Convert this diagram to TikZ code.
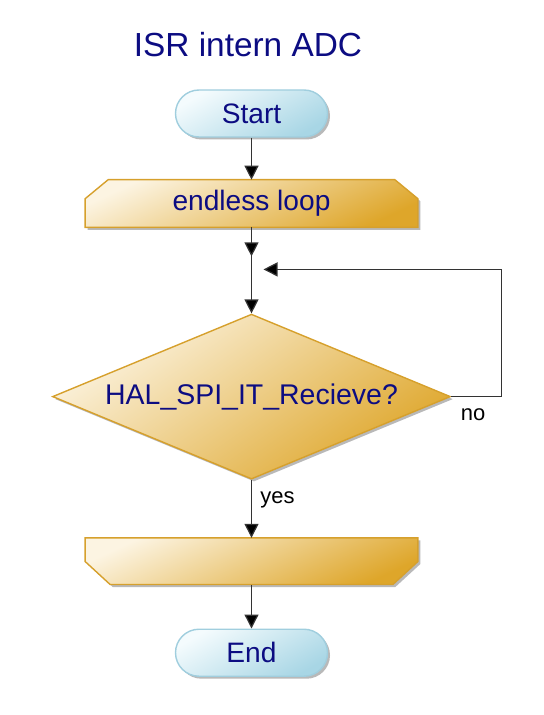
\documentclass[tikz,border=0pt]{standalone}
\usepackage{fontspec}
\setmainfont{Liberation Sans}
\usetikzlibrary{shapes.geometric,arrows.meta,positioning,calc,backgrounds,shadows}

\definecolor{inktext}{RGB}{12,12,130}
\definecolor{pillA}{RGB}{244,251,253}
\definecolor{pillB}{RGB}{168,214,229}
\definecolor{pillline}{RGB}{160,206,222}
\definecolor{goldA}{RGB}{252,244,226}
\definecolor{goldB}{RGB}{222,166,42}
\definecolor{goldline}{RGB}{214,160,44}

\begin{document}
\begin{tikzpicture}[
  font=\fontsize{16}{19}\selectfont,
  >={Triangle[length=0.28cm, width=0.28cm, fill=black]},
  heading/.style={font=\fontsize{19}{22}\selectfont, text=inktext},
  pill/.style={rectangle, rounded corners=0.47cm, draw=pillline, line width=0.8pt,
               top color=pillA, bottom color=pillB, shading angle=30,
               drop shadow={shadow xshift=0.05cm, shadow yshift=-0.05cm, fill=gray!55, opacity=1},
               minimum width=3.04cm, minimum height=0.94cm, text=inktext},
  bar/.style={rectangle, inner sep=0pt, minimum width=6.64cm, minimum height=0.94cm, text=inktext},
  barshape/.style={draw=goldline, line width=0.8pt, top color=goldA, bottom color=goldB, shading angle=25,
                   drop shadow={shadow xshift=0.05cm, shadow yshift=-0.05cm, fill=gray!55, opacity=1}},
  dec/.style={diamond, aspect=2.41, draw=goldline, line width=0.8pt, top color=goldA, bottom color=goldB, shading angle=35,
              drop shadow={shadow xshift=0.05cm, shadow yshift=-0.05cm, fill=gray!55, opacity=1},
              minimum width=7.96cm, minimum height=3.3cm, inner sep=0pt, text=inktext,
              font=\fontsize{16.2}{19}\selectfont},
  link/.style={->, line width=0.7pt, draw=black!80},
  lbl/.style={font=\fontsize{12.5}{15}\selectfont, text=black},
]
\useasboundingbox (0,0) rectangle (10.86,-14.3);

% title
\node[heading] (title) at (4.96,-0.9) {ISR intern ADC};

% main column
\node[pill] (start) at (5.03,-2.27) {Start};
\node[bar, below=0.84cm of start] (loop) {endless loop};
\coordinate[below=0.84cm of loop] (join);
\node[dec, below=0.88cm of join] (query) {HAL\_SPI\_IT\_Recieve?};
\node[bar, minimum height=0.92cm, below=1.16cm of query] (post) {};
\node[pill, below=0.88cm of post] (stop) {End};

% gold bars
\begin{scope}[on background layer]
  \path[barshape] (loop.south west) -- ([yshift=-0.38cm]loop.north west) -- ([xshift=0.46cm]loop.north west)
    -- ([xshift=-0.46cm]loop.north east) -- ([yshift=-0.38cm]loop.north east) -- (loop.south east) -- cycle;
  \path[barshape] (post.north west) -- ([yshift=0.46cm]post.south west) -- ([xshift=0.5cm]post.south west)
    -- ([xshift=-0.5cm]post.south east) -- ([yshift=0.46cm]post.south east) -- (post.north east) -- cycle;
\end{scope}

% main flow
\draw[link] (start) -- (loop);
\draw[link] (loop) -- ([yshift=0.26cm]join);
\draw[link] ([yshift=0.26cm]join) -- (query);
\draw[link] (query) -- node[lbl, right, pos=0.35, xshift=0.05cm]{yes} (post);
\draw[link] (post) -- (stop);

% no -> back to the loop
\draw[link, shorten >=0.24cm] (query.east) -- node[lbl, below, yshift=-0.12cm, xshift=-0.06cm]{no} ++(1.0,0) |- (join);

\end{tikzpicture}
\end{document}
